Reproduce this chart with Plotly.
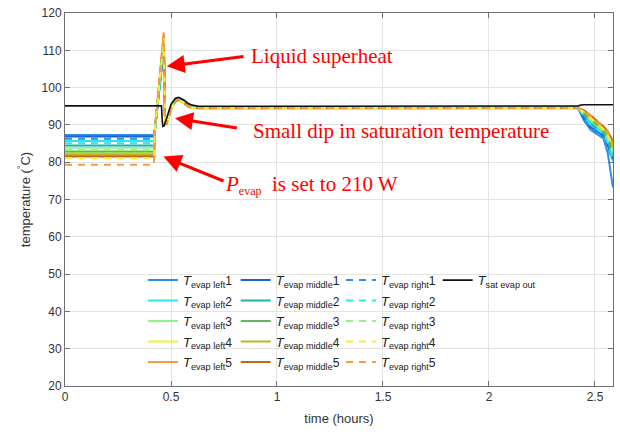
import plotly.graph_objects as go

# time axis (hours) shared by all evaporator wall temperatures
t_evap = [0, 0.42, 0.423, 0.466, 0.472, 0.478, 0.49, 0.50, 0.52, 0.535, 0.56, 0.58,
          0.60, 0.65, 2.42, 2.45, 2.48, 2.51, 2.54, 2.56, 2.585]

# evaporator temperatures, left side, positions 1..5 (deg C)
T_left = [
    [87.3, 87.3, 88.0, 110.5, 91.0, 90.4, 92.8, 94.8, 96.9, 97.2, 96.5, 95.5, 94.9, 94.7, 94.6, 91.0, 88.6, 87.6, 86.4, 82.5, 73.2],
    [85.7, 85.7, 88.0, 111.5, 91.0, 90.3, 92.6, 94.6, 96.7, 97.0, 96.3, 95.3, 94.8, 94.6, 94.5, 92.0, 89.8, 88.6, 87.3, 84.8, 80.2],
    [83.9, 83.9, 88.0, 112.5, 91.0, 90.2, 92.4, 94.4, 96.5, 96.8, 96.1, 95.1, 94.7, 94.5, 94.5, 92.8, 91.0, 89.6, 88.0, 86.2, 82.4],
    [82.5, 82.5, 88.0, 113.0, 91.0, 90.0, 92.1, 94.1, 96.2, 96.6, 95.9, 94.9, 94.5, 94.4, 94.4, 93.3, 91.8, 90.3, 88.8, 87.3, 84.0],
    [81.9, 81.9, 88.0, 113.8, 91.0, 90.1, 92.3, 94.3, 96.4, 96.7, 96.0, 95.0, 94.6, 94.5, 94.5, 93.6, 92.3, 90.8, 89.4, 88.0, 85.0],
]
# evaporator temperatures, middle, positions 1..5 (deg C)
T_middle = [
    [86.9, 86.9, 88.0, 111.0, 91.0, 90.4, 92.8, 94.8, 96.9, 97.2, 96.5, 95.5, 94.9, 94.7, 94.6, 91.5, 89.3, 88.3, 87.0, 84.5, 80.8],
    [84.5, 84.5, 88.0, 112.0, 91.0, 90.3, 92.6, 94.6, 96.7, 97.0, 96.3, 95.3, 94.8, 94.6, 94.6, 92.5, 90.3, 89.0, 87.7, 85.6, 81.5],
    [82.9, 82.9, 88.0, 113.0, 91.0, 90.2, 92.4, 94.4, 96.5, 96.8, 96.1, 95.1, 94.7, 94.5, 94.6, 93.0, 91.3, 89.9, 88.3, 86.6, 83.0],
    [82.1, 82.1, 88.0, 113.5, 91.0, 90.0, 92.1, 94.1, 96.2, 96.6, 95.9, 94.9, 94.5, 94.4, 94.5, 93.5, 92.0, 90.5, 89.0, 87.6, 84.5],
    [81.5, 81.5, 88.0, 114.5, 91.0, 90.1, 92.3, 94.3, 96.4, 96.7, 96.0, 95.0, 94.6, 94.5, 94.6, 93.8, 92.5, 91.0, 89.6, 88.3, 85.6],
]
# evaporator temperatures, right side, positions 1..5 (deg C)
T_right = [
    [86.3, 86.3, 88.0, 110.8, 91.0, 90.4, 92.8, 94.8, 96.9, 97.2, 96.5, 95.5, 94.9, 94.7, 94.5, 91.3, 89.0, 88.0, 86.8, 84.0, 80.3],
    [85.1, 85.1, 88.0, 111.8, 91.0, 90.3, 92.6, 94.6, 96.7, 97.0, 96.3, 95.3, 94.8, 94.6, 94.5, 92.2, 90.0, 88.8, 87.5, 85.2, 80.8],
    [83.3, 83.3, 88.0, 112.8, 91.0, 90.2, 92.4, 94.4, 96.5, 96.8, 96.1, 95.1, 94.7, 94.5, 94.5, 92.9, 91.1, 89.7, 88.1, 86.4, 82.6],
    [81.1, 81.1, 88.0, 113.3, 91.0, 90.0, 92.1, 94.1, 96.2, 96.6, 95.9, 94.9, 94.5, 94.4, 94.5, 93.4, 91.9, 90.4, 88.9, 87.4, 84.2],
    [79.3, 79.3, 88.0, 114.8, 91.0, 90.1, 92.3, 94.3, 96.4, 96.7, 96.0, 95.0, 94.6, 94.5, 94.5, 93.7, 92.4, 90.9, 89.5, 88.1, 85.2],
]

# saturation temperature at the evaporator outlet
t_sat = [0, 0.455, 0.459, 0.462, 0.468, 0.48, 0.50, 0.52, 0.535, 0.56, 0.58, 0.60,
         0.63, 1.0, 1.5, 2.0, 2.42, 2.44, 2.585]
T_sat = [95.1, 95.1, 91.0, 89.6, 89.8, 92.0, 95.5, 97.1, 97.4, 96.7, 95.8, 95.3,
         95.0, 95.0, 95.0, 95.0, 95.1, 95.4, 95.4]

positions = ["1", "2", "3", "4", "5"]
colors_left = ["#2f8cf0", "#29e6f0", "#8df58a", "#f5f032", "#fb9a3c"]
colors_middle = ["#1f66c0", "#1fb0b0", "#62b562", "#bcb626", "#c4661f"]
colors_right = ["#2f8cf0", "#29e6f0", "#8df58a", "#f5f032", "#fb9a3c"]

FONT = "Liberation Sans, Arial, sans-serif"
SERIF = "Liberation Serif, Times New Roman, serif"

fig = go.Figure()


def add_group(values, colors, label, dash, legend_id):
    for i, pos in enumerate(positions):
        fig.add_trace(go.Scatter(
            x=t_evap, y=values[i], mode="lines",
            line=dict(color=colors[i], width=2, dash=dash),
            name=f"<i>T</i><sub>evap {label}</sub><span style='font-size:12px'>{pos}</span>",
            legend=legend_id, legendgroup=f"{label}{pos}",
        ))


add_group(T_left, colors_left, "left", "solid", "legend")
add_group(T_middle, colors_middle, "middle", "solid", "legend2")
add_group(T_right, colors_right, "right", "7px,6px", "legend3")

fig.add_trace(go.Scatter(
    x=t_sat, y=T_sat, mode="lines",
    line=dict(color="#111111", width=1.6),
    name="<i>T</i><sub>sat evap out</sub>", legend="legend4",
))

leg_common = dict(
    bgcolor="rgba(0,0,0,0)", borderwidth=0, orientation="v",
    font=dict(family=FONT, size=13, color="#222222"),
    yanchor="top", xanchor="left", tracegroupgap=0.6,
    itemwidth=30,
)
leg_y = 0.324

axis_common = dict(
    showline=True, linecolor="#707070", linewidth=1, mirror="ticks",
    ticks="inside", ticklen=5, tickcolor="#707070",
    showgrid=True, gridcolor="#e3e3e3", gridwidth=1, zeroline=False,
    tickfont=dict(family=FONT, size=12, color="#333333"),
)

fig.update_layout(
    width=620, height=434,
    margin=dict(l=65, r=7, t=13, b=48),
    paper_bgcolor="white", plot_bgcolor="white",
    xaxis=dict(axis_common, range=[0, 2.585], tickvals=[0, 0.5, 1, 1.5, 2, 2.5],
               ticktext=["0", "0.5", "1", "1.5", "2", "2.5"],
               title=dict(text="time (hours)", font=dict(family=FONT, size=13, color="#333333"),
                          standoff=10)),
    yaxis=dict(axis_common, range=[20, 120], dtick=10,
               title=dict(text="temperature (<sup>°</sup>C)",
                          font=dict(family=FONT, size=13, color="#333333"), standoff=8)),
    legend=dict(leg_common, x=0.1423, y=leg_y),
    legend2=dict(leg_common, x=0.3115, y=leg_y),
    legend3=dict(leg_common, x=0.5036, y=leg_y),
    legend4=dict(leg_common, x=0.680, y=leg_y),
)

red = "#ff0000"
arrow_kw = dict(showarrow=True, arrowcolor=red, arrowwidth=3, arrowhead=2, arrowsize=1.2,
                axref="x", ayref="y", text="", standoff=0, startstandoff=0)
fig.add_annotation(x=0.480, y=105.7, ax=0.849, ay=108.4, **arrow_kw)
fig.add_annotation(x=0.519, y=91.8, ax=0.818, ay=89.1, **arrow_kw)
fig.add_annotation(x=0.464, y=81.5, ax=0.755, ay=74.8, **arrow_kw)

text_kw = dict(showarrow=False, xanchor="left", yanchor="middle",
               font=dict(family=SERIF, size=21, color=red))
fig.add_annotation(x=0.870, y=108.4, text="Liquid superheat", **text_kw)
fig.add_annotation(x=0.879, y=88.5, text="Small dip in saturation temperature", **text_kw)
fig.add_annotation(x=0.744, y=74.0,
                   text="<i>P</i><sub><span style='font-size:12px'>evap</span></sub>  is set to 210 W",
                   **text_kw)

fig.write_html("out.html")
